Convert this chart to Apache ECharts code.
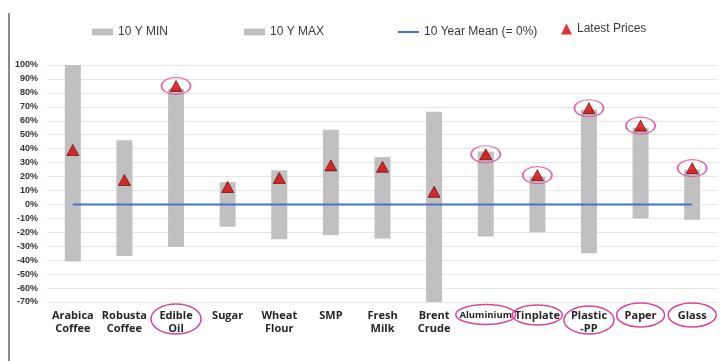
<!DOCTYPE html>
<html>
<head>
<meta charset="utf-8">
<script src="https://cdn.jsdelivr.net/npm/echarts@6/dist/echarts.min.js"></script>
<style>
html, body { margin: 0; padding: 0; background: #fff; }
#main { width: 724px; height: 361px; }
</style>
</head>
<body>
<div id="main"></div>
<script>
// categories and values (percent vs 10 year mean)
var categories = ['Arabica\nCoffee', 'Robusta\nCoffee', 'Edible\nOil', 'Sugar', 'Wheat\nFlour', 'SMP',
	'Fresh\nMilk', 'Brent\nCrude', 'Aluminium', 'Tinplate', 'Plastic\n-PP', 'Paper', 'Glass'];
var minVals = [-41, -37, -30.5, -16, -25, -22, -24.5, -70, -23, -20, -35, -10, -11];
var maxVals = [100, 46, 83, 16, 24.5, 53.5, 34, 66.5, 38, 20, 68, 55, 25];
var latestVals = [39, 17.5, 85, 12.5, 19, 28, 27, 9, 36, 21, 69, 56.5, 26];
var meanVals = [0, 0, 0, 0, 0, 0, 0, 0, 0, 0, 0, 0, 0];
var flagged = [0, 0, 1, 0, 0, 0, 0, 0, 1, 1, 1, 1, 1];
var yTicks = [-70, -60, -50, -40, -30, -20, -10, 0, 10, 20, 30, 40, 50, 60, 70, 80, 90, 100];

var pink = '#d9479a';
var barGray = '#c0c0c0';

// label ring sizes [rx, ry, cy]
var labelRings = {
	'Edible\nOil': [25, 15, 319],
	'Aluminium': [30, 10, 314.5],
	'Tinplate': [25, 10, 315],
	'Plastic\n-PP': [25, 14, 320],
	'Paper': [24, 12, 315],
	'Glass': [24, 12, 315]
};

var chart = echarts.init(document.getElementById('main'));

function oneLegend(name, left, top, icon, w, h) {
	return {
		data: [{ name: name, icon: icon }],
		left: left,
		top: top,
		itemWidth: w,
		itemHeight: h,
		itemStyle: { borderWidth: 0 },
		textStyle: { color: '#3a3a3a', fontSize: 12, fontFamily: 'Liberation Sans' }
	};
}

var option = {
	animation: false,
	backgroundColor: '#fff',
	legend: [
		oneLegend('10 Y MIN', 87, 21, 'rect', 21, 7),
		oneLegend('10 Y MAX', 239, 21, 'rect', 21, 7),
		oneLegend('10 Year Mean (= 0%)', 393, 21, 'rect', 21, 2),
		oneLegend('Latest Prices', 556, 18, 'triangle', 11, 11)
	],
	grid: { left: 47, right: 6, top: 65, bottom: 59 },
	xAxis: {
		type: 'category',
		data: categories,
		axisLine: { show: false },
		axisTick: { show: false },
		axisLabel: {
			interval: 0,
			margin: 7,
			color: '#262626',
			fontSize: 11,
			fontWeight: 'bold',
			fontFamily: 'Open Sans',
			lineHeight: 13,
			formatter: function(v) {
				if (v === 'Aluminium') return '{s|' + v + '}';
				return v;
			},
			rich: {
				s: { fontSize: 9.5, fontWeight: 'bold', fontFamily: 'Open Sans', color: '#262626' }
			}
		}
	},
	yAxis: {
		type: 'value',
		min: -70,
		max: 100,
		interval: 10,
		axisLine: { show: false },
		axisTick: { show: false },
		splitLine: { lineStyle: { color: '#e6e6e6', width: 1 } },
		axisLabel: {
			margin: 9,
			color: '#333',
			fontSize: 9,
			fontWeight: 'bold',
			fontFamily: 'Liberation Sans',
			formatter: function(v) {
				return yTicks.indexOf(v) >= 0 ? v + '%' : '';
			}
		}
	},
	series: [
		{
			name: '10 Y MIN',
			type: 'bar',
			stack: 'range',
			barWidth: 16,
			data: minVals,
			itemStyle: { color: barGray }
		},
		{
			name: '10 Y MAX',
			type: 'bar',
			stack: 'range',
			barWidth: 16,
			data: maxVals,
			itemStyle: { color: barGray }
		},
		{
			name: '10 Year Mean (= 0%)',
			type: 'line',
			data: meanVals,
			symbol: 'none',
			lineStyle: { color: '#4472c4', width: 2 },
			itemStyle: { color: '#4472c4' },
			z: 3
		},
		{
			name: 'Latest Prices',
			type: 'scatter',
			data: latestVals,
			symbol: 'triangle',
			symbolSize: [12, 11],
			itemStyle: { color: '#d80000', borderColor: '#5a0000', borderWidth: 0.8 },
			z: 5
		},
		{
			// pink rings round the highlighted triangles
			name: 'ring',
			type: 'scatter',
			data: latestVals.map(function(v, i) { return flagged[i] ? v : '-'; }),
			symbol: 'circle',
			symbolSize: [29, 17],
			itemStyle: { color: 'rgba(0,0,0,0)', borderColor: pink, borderWidth: 1.5 },
			silent: true,
			z: 6
		}
	],
	graphic: [
		{
			type: 'line',
			shape: { x1: 9, y1: 13, x2: 9, y2: 361 },
			style: { stroke: '#8a8a8a', lineWidth: 2 }
		}
	]
};

chart.setOption(option);

// rings round the highlighted category labels
var rings = [];
categories.forEach(function(c, i) {
	if (!flagged[i]) return;
	var r = labelRings[c];
	var px = chart.convertToPixel({ xAxisIndex: 0 }, c);
	rings.push({
		type: 'ellipse',
		shape: { cx: px, cy: r[2], rx: r[0], ry: r[1] },
		style: { fill: 'none', stroke: pink, lineWidth: 1.5 },
		z: 10
	});
});
chart.setOption({ graphic: option.graphic.concat(rings) });
</script>
</body>
</html>
